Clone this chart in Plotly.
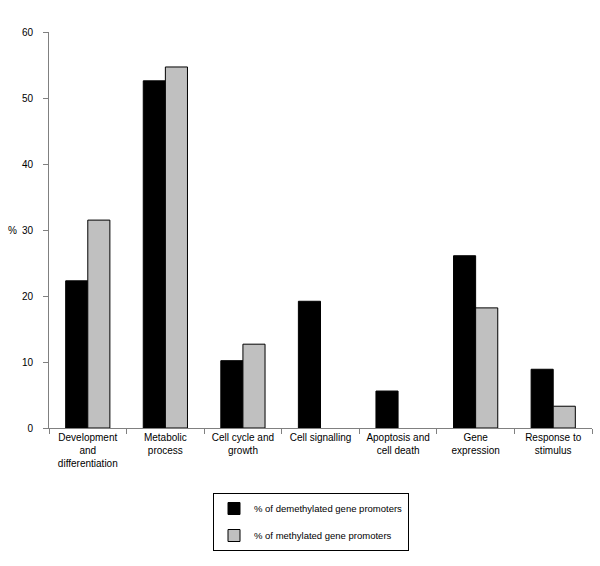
import plotly.graph_objects as go

categories = ["Development<br>and<br>differentiation", "Metabolic<br>process", "Cell cycle and<br>growth",
              "Cell signalling", "Apoptosis and<br>cell death", "Gene<br>expression", "Response to<br>stimulus"]
demethylated = [22.3, 52.6, 10.2, 19.2, 5.6, 26.1, 8.9]
methylated = [31.5, 54.7, 12.7, None, None, 18.2, 3.3]
series_names = ["% of demethylated gene promoters", "% of methylated gene promoters"]

font = dict(family="Liberation Sans, Arial, sans-serif", size=10, color="black")

fig = go.Figure()
fig.add_trace(go.Bar(x=categories, y=demethylated, name=series_names[0],
                     marker=dict(color="black", line=dict(color="black", width=1)),
                     legendgroup="a"))
fig.add_trace(go.Bar(x=categories, y=methylated, name=series_names[1],
                     marker=dict(color="#c0c0c0", line=dict(color="black", width=1)),
                     legendgroup="b"))

fig.update_layout(
    width=600, height=566,
    margin=dict(l=49, r=8, t=32, b=138, autoexpand=False),
    paper_bgcolor="white", plot_bgcolor="white",
    font=font,
    barmode="group", bargap=0.43, bargroupgap=0,
    showlegend=True,
    legend=dict(x=213 / 600, y=1 - 493 / 566, xref="container", yref="container",
                xanchor="left", yanchor="top",
                bordercolor="black", borderwidth=1, bgcolor="white",
                font=dict(family="Liberation Sans, Arial, sans-serif", size=9.5),
                tracegroupgap=8, itemwidth=30),
    xaxis=dict(showline=True, linecolor="#808080", linewidth=1, automargin=False,
               ticks="outside", tickson="boundaries", ticklen=5, tickcolor="#808080",
               tickangle=0, showgrid=False, zeroline=False),
    yaxis=dict(range=[0, 60], dtick=10, showline=True, linecolor="#808080", linewidth=1,
               automargin=False, ticks="outside", ticklen=5, tickcolor="#808080", showgrid=False,
               zeroline=False, ticklabelstandoff=8),
    annotations=[dict(text="%", x=(12 - 49) / 543, y=30, xref="paper", yref="y",
                      showarrow=False, font=font, xanchor="center")],
)

fig.write_html("out.html", config={"displayModeBar": False},
               post_script="document.body.style.margin='0';document.body.style.overflow='hidden';")
